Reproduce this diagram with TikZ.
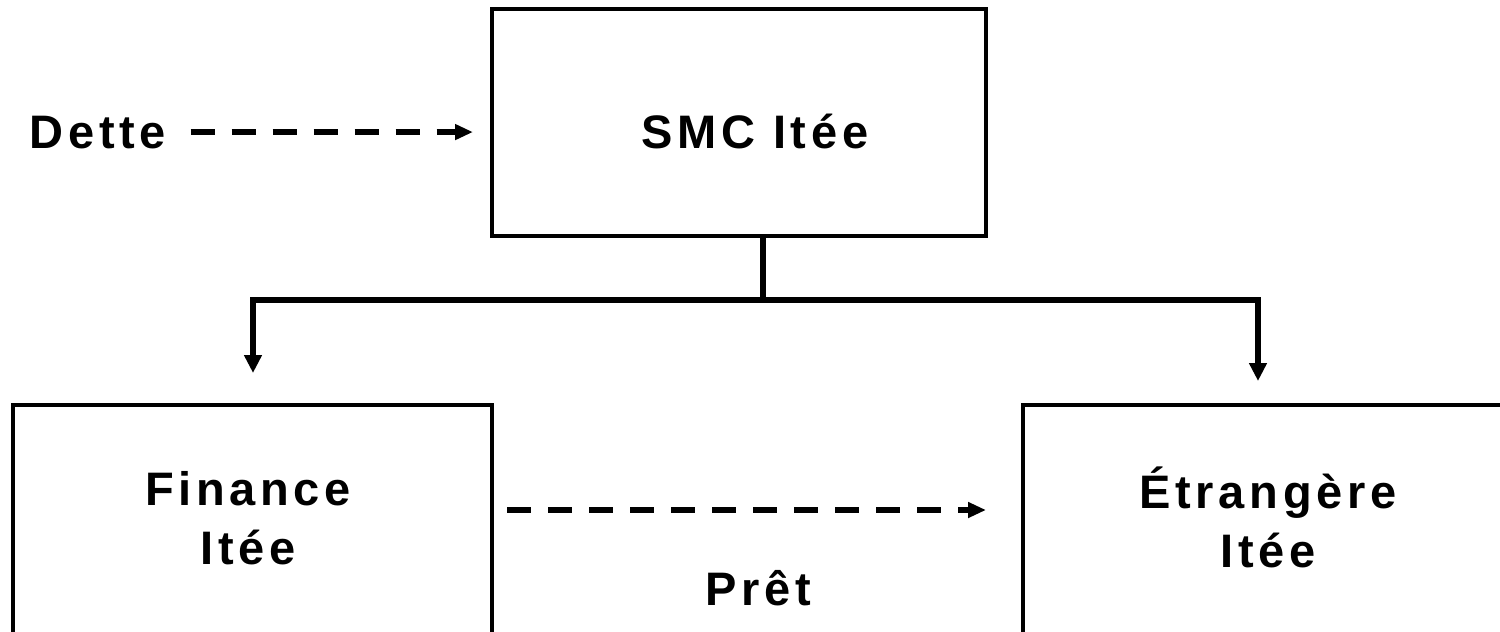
\documentclass[tikz,border=0pt]{standalone}
\usepackage{fontspec}
\setmainfont{Liberation Sans}[LetterSpace=10]
\usetikzlibrary{arrows.meta}
\begin{document}
\begin{tikzpicture}[x=0.5pt,y=-0.5pt,
  box/.style={draw, line width=2pt, rectangle, inner sep=0pt},
  lbl/.style={font=\fontsize{23.5pt}{29.5pt}\selectfont\bfseries, inner sep=0pt, align=center},
  conn/.style={line width=2.7pt, line join=miter},
  treearr/.style={conn, {Triangle[length=9pt,width=8.5pt]}-{Triangle[length=9pt,width=8.5pt]}},
  dasharr/.style={line width=3pt, dash pattern=on 12pt off 8.5pt, -{Triangle[length=9pt,width=7.5pt]}}
]
\useasboundingbox (0,0) rectangle (1500,632);
\clip (0,0) rectangle (1500,632);
% boxes
\node[box, minimum width=247pt, minimum height=113.5pt] (smc) at (739,122.5) {};
\node[box, minimum width=239.5pt, minimum height=157.5pt] (fin) at (252.5,562.5) {};
\node[box, minimum width=278.5pt, minimum height=157.5pt] (etr) at (1301.5,562.5) {};
% labels
\node[lbl, anchor=base] (smcl) at (755,148) {SMC Itée};
\node[lbl, anchor=base] (dette) at (98,148) {Dette};
\node[lbl, anchor=base] (pret) at (758,605) {Prêt};
\node[lbl, anchor=north] (finl) at (248,471) {Finance\\Itée};
\node[lbl, anchor=north] (etrl) at (1268,466) {Étrangère\\Itée};
% tree connector
\coordinate (busL) at (253,300);
\coordinate (busR) at (1258,300);
\coordinate (tipL) at (253,373);
\coordinate (tipR) at (1258,381);
\draw[conn] ([xshift=12pt]smc.south) -- ([xshift=12pt]smc.south |- busL);
\draw[treearr] (tipL) -- (busL) -- (busR) -- (tipR);
% dashed arrows
\draw[dasharr, shorten <=12pt, shorten >=8.5pt] (dette.east) -- (smc.west |- dette.east);
\coordinate (pl) at (0,510);
\draw[dasharr, shorten <=6.5pt, shorten >=17.5pt] (fin.east |- pl) -- (etr.west |- pl);
\end{tikzpicture}
\end{document}
